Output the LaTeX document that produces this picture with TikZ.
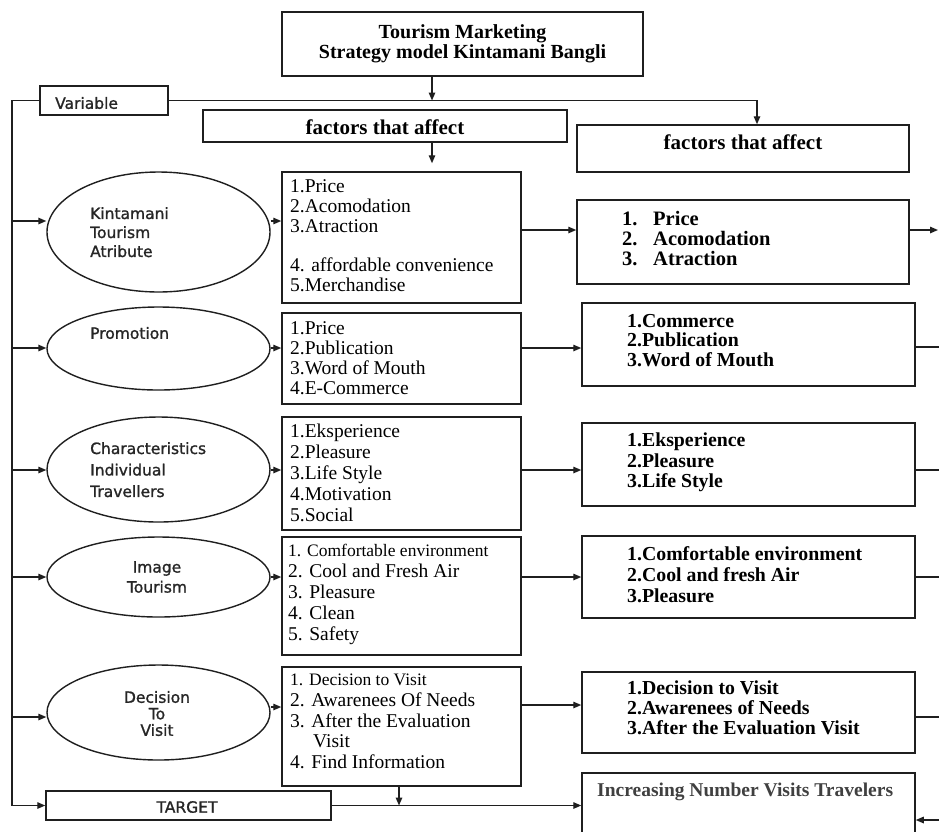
\documentclass[tikz,border=0pt]{standalone}
\usepackage{fontspec}
\setmainfont{Liberation Serif}
\newfontfamily\sansfam[FakeBold=1.2]{DejaVu Sans}
\usetikzlibrary{shapes.geometric,arrows.meta}
\begin{document}
\begin{tikzpicture}[x=1pt,y=-1pt,
  box/.style={draw=black!88, rectangle, inner sep=0pt, line width=1.5pt},
  oval/.style={draw=black!88, ellipse, inner sep=0pt, line width=1.4pt},
  ln/.style={draw=black!88, line width=1.4pt},
  arr/.style={ln, -{Triangle[length=8pt,width=6.5pt]}},
  stx/.style={font=\sansfam\fontsize{15.5}{19}\selectfont, inner sep=0pt, text=black!85},
  ftx/.style={font=\bfseries\fontsize{21}{21}\selectfont, inner sep=0pt},
  mtx/.style={font=\fontsize{19.5}{20}\selectfont, inner sep=0pt, align=left, anchor=north west},
  rtx/.style={font=\bfseries\fontsize{19.8}{20}\selectfont, inner sep=0pt, align=left, anchor=north west},
]
\clip (0,0) rectangle (939,831);
\fill[white] (0,0) rectangle (939,831);

% coordinates
\coordinate (Lx) at (12,0);
\coordinate (Rx) at (938,0);
\coordinate (Ex) at (939,0);
\coordinate (ax) at (432,0);
\coordinate (hx) at (757,0);
\coordinate (bx) at (399,0);
\coordinate (ya) at (0,221);
\coordinate (yb) at (0,348);
\coordinate (yc) at (0,470);
\coordinate (yd) at (0,577);
\coordinate (ye) at (0,717);
\coordinate (yo) at (0,707);
\coordinate (z1) at (0,230);
\coordinate (z2) at (0,348);
\coordinate (z3) at (0,470);
\coordinate (z4) at (0,577);
\coordinate (z5) at (0,705);
\coordinate (q1) at (0,230);
\coordinate (q2) at (0,347);
\coordinate (q3) at (0,470);
\coordinate (q4) at (0,577);
\coordinate (q5) at (0,717);
\coordinate (qi) at (0,820);

% top
\node[box, minimum width=361pt, minimum height=64pt, align=center,
      font=\bfseries\fontsize{20}{20}\selectfont] (title) at (462.5,44)
      {Tourism Marketing\\Strategy model Kintamani Bangli};
\node[box, minimum width=128pt, minimum height=29pt] (var) at (104,100.5) {};
\node[stx, anchor=west] (vart) at (55,103) {Variable};
\node[box, minimum width=364pt, minimum height=32pt] (lf) at (385,126) {};
\node[ftx] (lft) at (385,127) {factors that affect};
\node[box, minimum width=332pt, minimum height=47pt] (rf) at (743,148.5) {};
\node[ftx] (rft) at (743,142) {factors that affect};

% ellipses
\node[oval, minimum width=223pt, minimum height=120pt] (e1) at (158.5,232) {};
\node[stx, align=left, anchor=north west] (e1t) at (90,207) {Kintamani\\Tourism\\Atribute};
\node[oval, minimum width=223pt, minimum height=83pt] (e2) at (158.5,348.5) {};
\node[stx, anchor=west] (e2t) at (90,333) {Promotion};
\node[oval, minimum width=223pt, minimum height=105pt] (e3) at (158.5,469.5) {};
\node[stx, align=left, anchor=north west, font=\sansfam\fontsize{15.5}{21.5}\selectfont] (e3t) at (90,442) {Characteristics\\Individual\\Travellers};
\node[oval, minimum width=223pt, minimum height=80pt] (e4) at (158.5,577) {};
\node[stx, align=center, font=\sansfam\fontsize{15.5}{20}\selectfont] (e4t) at (157,577) {Image\\Tourism};
\node[oval, minimum width=223pt, minimum height=95pt] (e5) at (158.5,712.5) {};
\node[stx, align=center, font=\sansfam\fontsize{15.5}{16.5}\selectfont] (e5t) at (157,713.5) {Decision\\To\\Visit};

% middle boxes
\node[box, minimum width=239pt, minimum height=131pt] (m1) at (401.5,237.5) {};
\node[mtx] (m1t) at (290,179) {1.Price\\2.Acomodation\\3.Atraction\\[19pt]4. affordable convenience\\5.Merchandise};
\node[box, minimum width=239pt, minimum height=91pt] (m2) at (401.5,358.5) {};
\node[mtx] (m2t) at (290,321) {1.Price\\2.Publication\\3.Word of Mouth\\4.E-Commerce};
\node[box, minimum width=239pt, minimum height=113pt] (m3) at (401.5,473.5) {};
\node[mtx, font=\fontsize{19.5}{21}\selectfont] (m3t) at (290,424) {1.Eksperience\\2.Pleasure\\3.Life Style\\4.Motivation\\5.Social};
\node[box, minimum width=239pt, minimum height=118pt] (m4) at (401.5,596) {};
\node[mtx, font=\fontsize{19.5}{21}\selectfont] (m4t) at (288,544) {{\fontsize{17.5}{21}\selectfont 1. Comfortable environment}\\2. Cool and Fresh Air\\3. Pleasure\\4. Clean\\5. Safety};
\node[box, minimum width=239pt, minimum height=119pt] (m5) at (401.5,726.5) {};
\node[mtx, font=\fontsize{19.5}{20.7}\selectfont] (m5t) at (290,674) {{\fontsize{17.5}{20.7}\selectfont 1. Decision to Visit}\\2. Awarenees Of Needs\\3. After the Evaluation\\\hspace*{23pt}Visit\\4. Find Information};

% right boxes
\node[box, minimum width=332pt, minimum height=84pt] (r1) at (743,242) {};
\node[rtx, font=\bfseries\fontsize{20.5}{20}\selectfont] (r1t) at (622,211) {\makebox[31pt][l]{1.}Price\\\makebox[31pt][l]{2.}Acomodation\\\makebox[31pt][l]{3.}Atraction};
\node[box, minimum width=333pt, minimum height=83pt] (r2) at (748.5,344.5) {};
\node[rtx, font=\bfseries\fontsize{19.8}{19.5}\selectfont] (r2t) at (627,314) {1.Commerce\\2.Publication\\3.Word of Mouth};
\node[box, minimum width=333pt, minimum height=83pt] (r3) at (748.5,464.5) {};
\node[rtx, font=\bfseries\fontsize{19.8}{20.5}\selectfont] (r3t) at (627,433) {1.Eksperience\\2.Pleasure\\3.Life Style};
\node[box, minimum width=333pt, minimum height=82pt] (r4) at (748.5,577) {};
\node[rtx, font=\bfseries\fontsize{19.8}{21}\selectfont] (r4t) at (627,546) {1.Comfortable environment\\2.Cool and fresh Air\\3.Pleasure};
\node[box, minimum width=333pt, minimum height=81pt] (r5) at (748.5,712.5) {};
\node[rtx] (r5t) at (627,681) {1.Decision to Visit\\2.Awarenees of Needs\\3.After the Evaluation Visit};
\node[box, minimum width=333pt, minimum height=78pt] (inc) at (748.5,812) {};
\node[font=\bfseries\fontsize{19.5}{20}\selectfont, text=black!75, inner sep=0pt, anchor=west] (inct) at (597,792) {Increasing Number Visits Travelers};

% target
\node[box, minimum width=285pt, minimum height=29pt] (tg) at (188.5,805.5) {};
\node[stx] (tgt) at (187,807) {TARGET};

% connectors
\draw[arr] (ax |- title.south) -- (ax |- var.east);
\draw[arr] (var.east) -- (hx |- var.east) -- (hx |- rf.north);
\draw[arr, shorten >=8pt] (ax |- lf.south) -- (ax |- m1.north);
\draw[ln] (var.west) -- (Lx |- var.west) -- (Lx |- tg.west);
\draw[arr] (Lx |- tg.west) -- (tg.west);
\foreach \e/\y in {e1/ya,e2/yb,e3/yc,e4/yd,e5/ye}
  \draw[arr] (Lx |- \y) -- (\e.west |- \y);
\foreach \e/\m/\y in {e1/m1/ya,e2/m2/yb,e3/m3/yc,e4/m4/yd,e5/m5/yo}
  \draw[arr] (\e.east |- \y) -- (\m.west |- \y);
\foreach \m/\r/\y in {m1/r1/z1,m2/r2/z2,m3/r3/z3,m4/r4/z4,m5/r5/z5}
  \draw[arr] (\m.east |- \y) -- (\r.west |- \y);
\draw[arr] (r1.east |- q1) -- (Rx |- q1);
\foreach \r/\y in {r2/q2,r3/q3,r4/q4,r5/q5}
  \draw[ln] (\r.east |- \y) -- (Ex |- \y);
\draw[arr] (bx |- m5.south) -- (bx |- tg.east);
\draw[arr] (tg.east) -- (inc.west |- tg.east);
\draw[arr] (Ex |- qi) -- (inc.east |- qi);
\end{tikzpicture}
\end{document}
